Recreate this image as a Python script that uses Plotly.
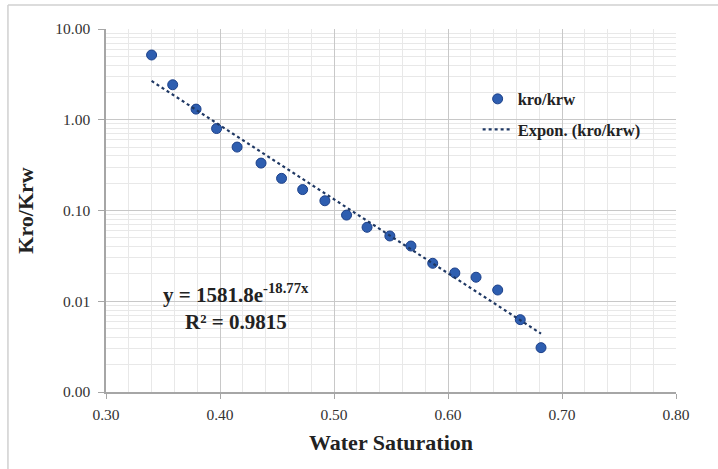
import numpy as np
import plotly.graph_objects as go

# Data
sw = [0.340, 0.3585, 0.379, 0.397, 0.415, 0.436, 0.454, 0.4725, 0.492, 0.511,
      0.529, 0.549, 0.5675, 0.5866, 0.606, 0.6246, 0.6436, 0.6634, 0.6816]
kro_krw = [5.17, 2.43, 1.31, 0.80, 0.50, 0.333, 0.226, 0.170, 0.128, 0.089,
           0.0653, 0.0524, 0.0406, 0.0262, 0.0205, 0.0184, 0.0133, 0.00627, 0.00308]

# Exponential trendline coefficients (as printed on the chart)
fit_a = 1581.8
fit_b = -18.77
fit_r2 = 0.9815

x_ticks = [0.30, 0.40, 0.50, 0.60, 0.70, 0.80]
x_ticktext = ["0.30", "0.40", "0.50", "0.60", "0.70", "0.80"]
y_ticks = [0.001, 0.01, 0.1, 1, 10]
y_ticktext = ["0.00", "0.01", "0.10", "1.00", "10.00"]

y_minor = [m * 10.0 ** e for e in range(-3, 1) for m in range(2, 10)]

xt = np.linspace(min(sw), max(sw), 50)
yt = fit_a * np.exp(fit_b * xt)

SERIF = "Liberation Serif, DejaVu Serif, serif"

fig = go.Figure()
fig.add_trace(go.Scatter(
    x=sw, y=kro_krw, mode="markers", name="kro/krw", legendgroup="a",
    marker=dict(size=10, color="#2e5eb0", line=dict(color="#1d418a", width=1)),
))
fig.add_trace(go.Scatter(
    x=xt, y=yt, mode="lines", name="Expon. (kro/krw)", legendgroup="b",
    line=dict(color="#1f3864", width=2.2, dash="dot"),
))

fig.update_layout(
    width=718, height=469,
    margin=dict(l=106, r=42, t=29, b=77),
    paper_bgcolor="white", plot_bgcolor="white",
    font=dict(family=SERIF, color="#222222"),
    showlegend=True,
    legend=dict(x=0.652, y=0.855, xanchor="left", yanchor="top",
                bgcolor="rgba(0,0,0,0)",
                font=dict(family=SERIF, size=16.5, color="#222222", weight="bold"),
                tracegroupgap=6),
    xaxis=dict(
        range=[0.30, 0.80], tickvals=x_ticks, ticktext=x_ticktext,
        showgrid=True, gridcolor="#c8c8c8", gridwidth=1,
        minor=dict(dtick=0.02, showgrid=True, gridcolor="#e8e8e8", gridwidth=1, ticks=""),
        showline=True, linecolor="#a6a6a6", linewidth=1.5,
        ticks="outside", ticklen=5, tickcolor="#a6a6a6",
        ticklabelstandoff=3,
        tickfont=dict(family=SERIF, size=15.5, color="#333333"),
        zeroline=False,
        title=dict(text="<b>Water Saturation</b>", standoff=12,
                   font=dict(family=SERIF, size=22, color="#222222")),
    ),
    yaxis=dict(
        type="log", range=[-3, 1], tickvals=y_ticks, ticktext=y_ticktext,
        showgrid=True, gridcolor="#c8c8c8", gridwidth=1,
        minor=dict(tickvals=y_minor, showgrid=True, gridcolor="#e8e8e8", gridwidth=1, ticks=""),
        showline=True, linecolor="#a6a6a6", linewidth=1.5,
        ticks="outside", ticklen=6, tickcolor="#a6a6a6",
        ticklabelstandoff=5,
        tickfont=dict(family=SERIF, size=15.5, color="#333333"),
        zeroline=False,
        title=dict(text="<b>Kro/Krw</b>", standoff=16,
                   font=dict(family=SERIF, size=22, color="#222222")),
    ),
    annotations=[
        dict(xref="paper", yref="paper", x=0.228, y=0.27, xanchor="center", yanchor="middle",
             showarrow=False,
             text="<b>y = 1581.8e<sup>-18.77x</sup></b>",
             font=dict(family=SERIF, size=21, color="#222222")),
        dict(xref="paper", yref="paper", x=0.228, y=0.193, xanchor="center", yanchor="middle",
             showarrow=False,
             text="<b>R² = %.4f</b>" % fit_r2,
             font=dict(family=SERIF, size=21, color="#222222")),
    ],
    shapes=[
        dict(type="line", xref="paper", yref="paper", x0=-0.172, x1=-0.172,
             y0=1.066, y1=-0.25, line=dict(color="#d0d0d0", width=1.5)),
        dict(type="line", xref="paper", yref="paper", x0=-0.172, x1=1.1,
             y0=1.066, y1=1.066, line=dict(color="#d0d0d0", width=1.5)),
    ],
)

fig.write_html("out.html")
